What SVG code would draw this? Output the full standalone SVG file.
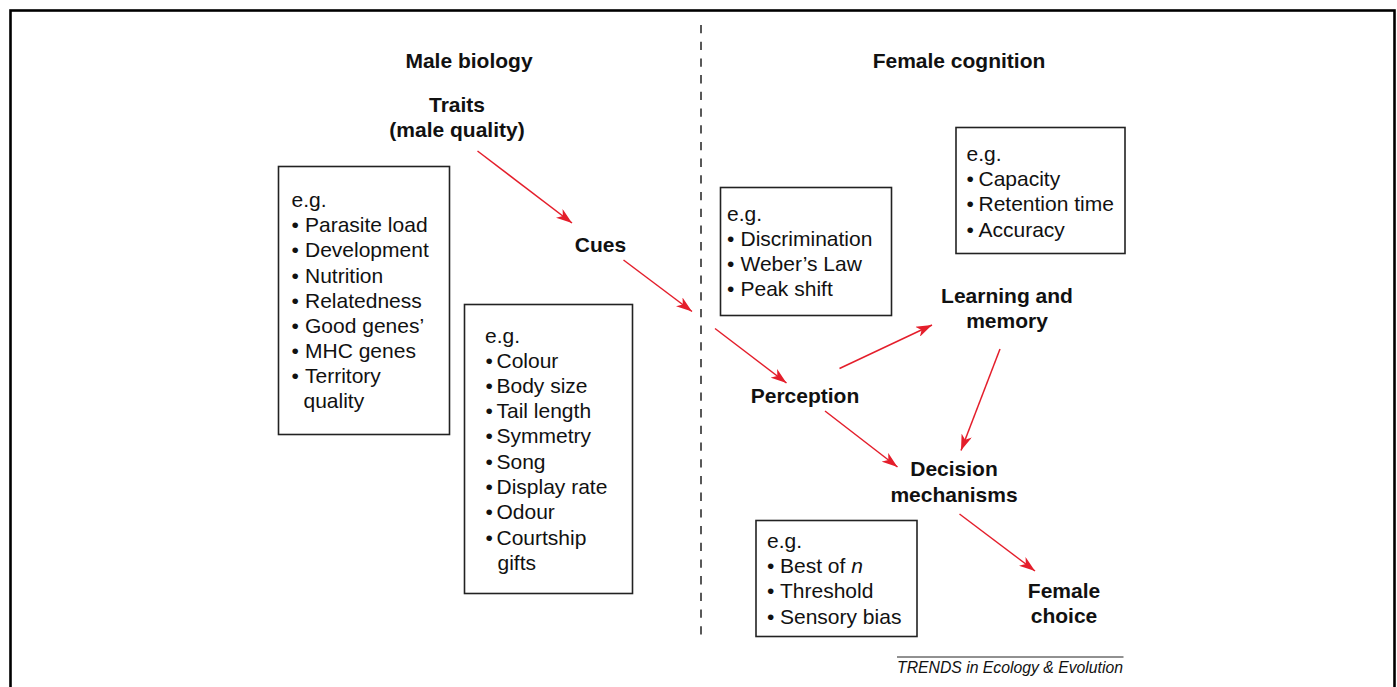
<svg xmlns="http://www.w3.org/2000/svg" width="1397" height="687" viewBox="0 0 1397 687">
<style>
.t{font-family:"Liberation Sans",Arial,sans-serif;font-size:21px;fill:#111}
.b{font-family:"Liberation Sans",Arial,sans-serif;font-size:21px;font-weight:bold;fill:#111;text-anchor:middle}
.box{fill:none;stroke:#222;stroke-width:1.6}
.arr{stroke:#e41e2b;stroke-width:1.5;fill:none;marker-end:url(#ah)}
</style>
<defs>
<marker id="ah" markerUnits="userSpaceOnUse" viewBox="0 0 16 11" refX="16" refY="5.5" markerWidth="16" markerHeight="11" orient="auto">
<path d="M0,0 L16,5.5 L0,11 L4.5,5.5 Z" fill="#e41e2b"/>
</marker>
</defs>
<rect x="0" y="0" width="1397" height="687" fill="#fff"/>
<rect x="10.5" y="10.5" width="1384" height="700" fill="none" stroke="#000" stroke-width="2.6"/>
<line x1="701" y1="25" x2="701" y2="642" stroke="#222" stroke-width="1.5" stroke-dasharray="8.3 8.4"/>

<g id="male-biology"><text class="b" x="469" y="68">Male biology</text></g>
<g id="female-cognition"><text class="b" x="959" y="68">Female cognition</text></g>
<g id="traits"><text class="b" x="457" y="111.5">Traits</text><text class="b" x="457" y="136.5">(male quality)</text></g>
<g id="cues"><text class="b" x="600.5" y="251.5">Cues</text></g>
<g id="perception"><text class="b" x="805" y="402.5">Perception</text></g>
<g id="learning"><text class="b" x="1007" y="302.5">Learning and</text><text class="b" x="1007" y="328.3">memory</text></g>
<g id="decision"><text class="b" x="954" y="475.7">Decision</text><text class="b" x="954" y="501.7">mechanisms</text></g>
<g id="female-choice"><text class="b" x="1064" y="598.3">Female</text><text class="b" x="1064" y="623.3">choice</text></g>

<g id="box-traits">
<rect class="box" x="278.5" y="166.5" width="171" height="268"/>
<text class="t" x="291.5" y="206.7">e.g.</text>
<text class="t" y="231.7"><tspan x="291.5">•</tspan><tspan x="305">Parasite load</tspan></text>
<text class="t" y="257.3"><tspan x="291.5">•</tspan><tspan x="305">Development</tspan></text>
<text class="t" y="282.7"><tspan x="291.5">•</tspan><tspan x="305">Nutrition</tspan></text>
<text class="t" y="307.7"><tspan x="291.5">•</tspan><tspan x="305">Relatedness</tspan></text>
<text class="t" y="333.3"><tspan x="291.5">•</tspan><tspan x="305">Good genes’</tspan></text>
<text class="t" y="358.3"><tspan x="291.5">•</tspan><tspan x="305">MHC genes</tspan></text>
<text class="t" y="383.3"><tspan x="291.5">•</tspan><tspan x="305">Territory</tspan></text>
<text class="t" x="303.5" y="408.3">quality</text>
</g>

<g id="box-cues">
<rect class="box" x="464.5" y="304.5" width="168" height="289"/>
<text class="t" x="485" y="343.3">e.g.</text>
<text class="t" y="368.3"><tspan x="485.5">•</tspan><tspan x="496.5">Colour</tspan></text>
<text class="t" y="393.3"><tspan x="485.5">•</tspan><tspan x="496.5">Body size</tspan></text>
<text class="t" y="418.3"><tspan x="485.5">•</tspan><tspan x="496.5">Tail length</tspan></text>
<text class="t" y="443.3"><tspan x="485.5">•</tspan><tspan x="496.5">Symmetry</tspan></text>
<text class="t" y="469"><tspan x="485.5">•</tspan><tspan x="496.5">Song</tspan></text>
<text class="t" y="494"><tspan x="485.5">•</tspan><tspan x="496.5">Display rate</tspan></text>
<text class="t" y="519.3"><tspan x="485.5">•</tspan><tspan x="496.5">Odour</tspan></text>
<text class="t" y="545"><tspan x="485.5">•</tspan><tspan x="496.5">Courtship</tspan></text>
<text class="t" x="497.5" y="570">gifts</text>
</g>

<g id="box-perception">
<rect class="box" x="720.5" y="187.5" width="171" height="128"/>
<text class="t" x="727" y="220.7">e.g.</text>
<text class="t" y="245.7"><tspan x="727">•</tspan><tspan x="740.5">Discrimination</tspan></text>
<text class="t" y="270.7"><tspan x="727">•</tspan><tspan x="740.5">Weber’s Law</tspan></text>
<text class="t" y="296"><tspan x="727">•</tspan><tspan x="740.5">Peak shift</tspan></text>
</g>

<g id="box-learning">
<rect class="box" x="956" y="127.5" width="169" height="126"/>
<text class="t" x="966.5" y="160.7">e.g.</text>
<text class="t" y="185.5"><tspan x="966.5">•</tspan><tspan x="978.5">Capacity</tspan></text>
<text class="t" y="210.7"><tspan x="966.5">•</tspan><tspan x="978.5">Retention time</tspan></text>
<text class="t" y="236.5"><tspan x="966.5">•</tspan><tspan x="978.5">Accuracy</tspan></text>
</g>

<g id="box-decision">
<rect class="box" x="756" y="520.5" width="161" height="116"/>
<text class="t" x="767" y="548">e.g.</text>
<text class="t" y="573"><tspan x="767">•</tspan><tspan x="780">Best of </tspan><tspan font-style="italic">n</tspan></text>
<text class="t" y="598"><tspan x="767">•</tspan><tspan x="780">Threshold</tspan></text>
<text class="t" y="623.5"><tspan x="767">•</tspan><tspan x="780">Sensory bias</tspan></text>
</g>

<g id="connectors">
<line class="arr" x1="477.5" y1="151" x2="572" y2="223"/>
<line class="arr" x1="623.5" y1="260" x2="692" y2="311.5"/>
<line class="arr" x1="715" y1="328.5" x2="786.5" y2="383"/>
<line class="arr" x1="839.5" y1="368.5" x2="932" y2="325"/>
<line class="arr" x1="1000" y1="349" x2="961" y2="450.5"/>
<line class="arr" x1="825" y1="411" x2="897.5" y2="467"/>
<line class="arr" x1="959.5" y1="514" x2="1035" y2="571"/>
</g>

<g id="credit">
<line x1="897" y1="657" x2="1123.5" y2="657" stroke="#222" stroke-width="1"/>
<text x="1123" y="672.5" text-anchor="end" textLength="226" lengthAdjust="spacingAndGlyphs" style="font-family:'Liberation Sans',Arial,sans-serif;font-size:16px;font-style:italic;fill:#111">TRENDS in Ecology &amp; Evolution</text>
</g>
</svg>
